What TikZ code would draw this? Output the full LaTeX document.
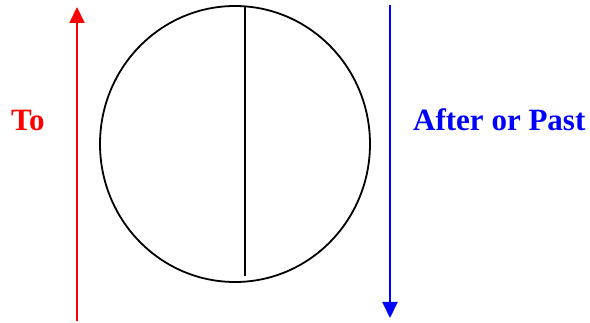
\documentclass[tikz,border=0pt]{standalone}
\usepackage{fontspec}
\setmainfont{Liberation Serif}
\usepackage{xcolor}
\usepackage{tikz}
\usetikzlibrary{arrows.meta,positioning,shapes.geometric}
\definecolor{ToRed}{HTML}{FF0000}
\definecolor{PastBlue}{HTML}{0000FF}

\begin{document}
\begin{tikzpicture}[x=1pt,y=-1pt,
  dirarrow/.style={line width=2pt,-{Triangle[length=16pt,width=15pt]}},
  sidelabel/.style={font=\fontsize{31}{31}\selectfont\bfseries, inner sep=0pt, anchor=base west}]
\useasboundingbox (0,0) rectangle (590,323);
\node[draw, ellipse, line width=1.8pt, minimum width=270pt, minimum height=276pt,
  inner sep=0pt] (clock) at (235,144) {};
\coordinate (halftop) at (245,7);
\coordinate (halfbot) at (245,276);
\draw[line width=1.5pt] (halftop) -- (halfbot);
% to the hour
\coordinate (tostart) at (77,321);
\coordinate (toend) at (77,7);
\draw[dirarrow, ToRed] (tostart) -- (toend);
\node[sidelabel, ToRed] (tolabel) at (11,131) {To};
% past the hour
\coordinate (paststart) at (390,5);
\coordinate (pastend) at (390,318);
\draw[dirarrow, PastBlue] (paststart) -- (pastend);
\node[sidelabel, PastBlue] (pastlabel) at (413,131) {After or Past};
\end{tikzpicture}
\end{document}
